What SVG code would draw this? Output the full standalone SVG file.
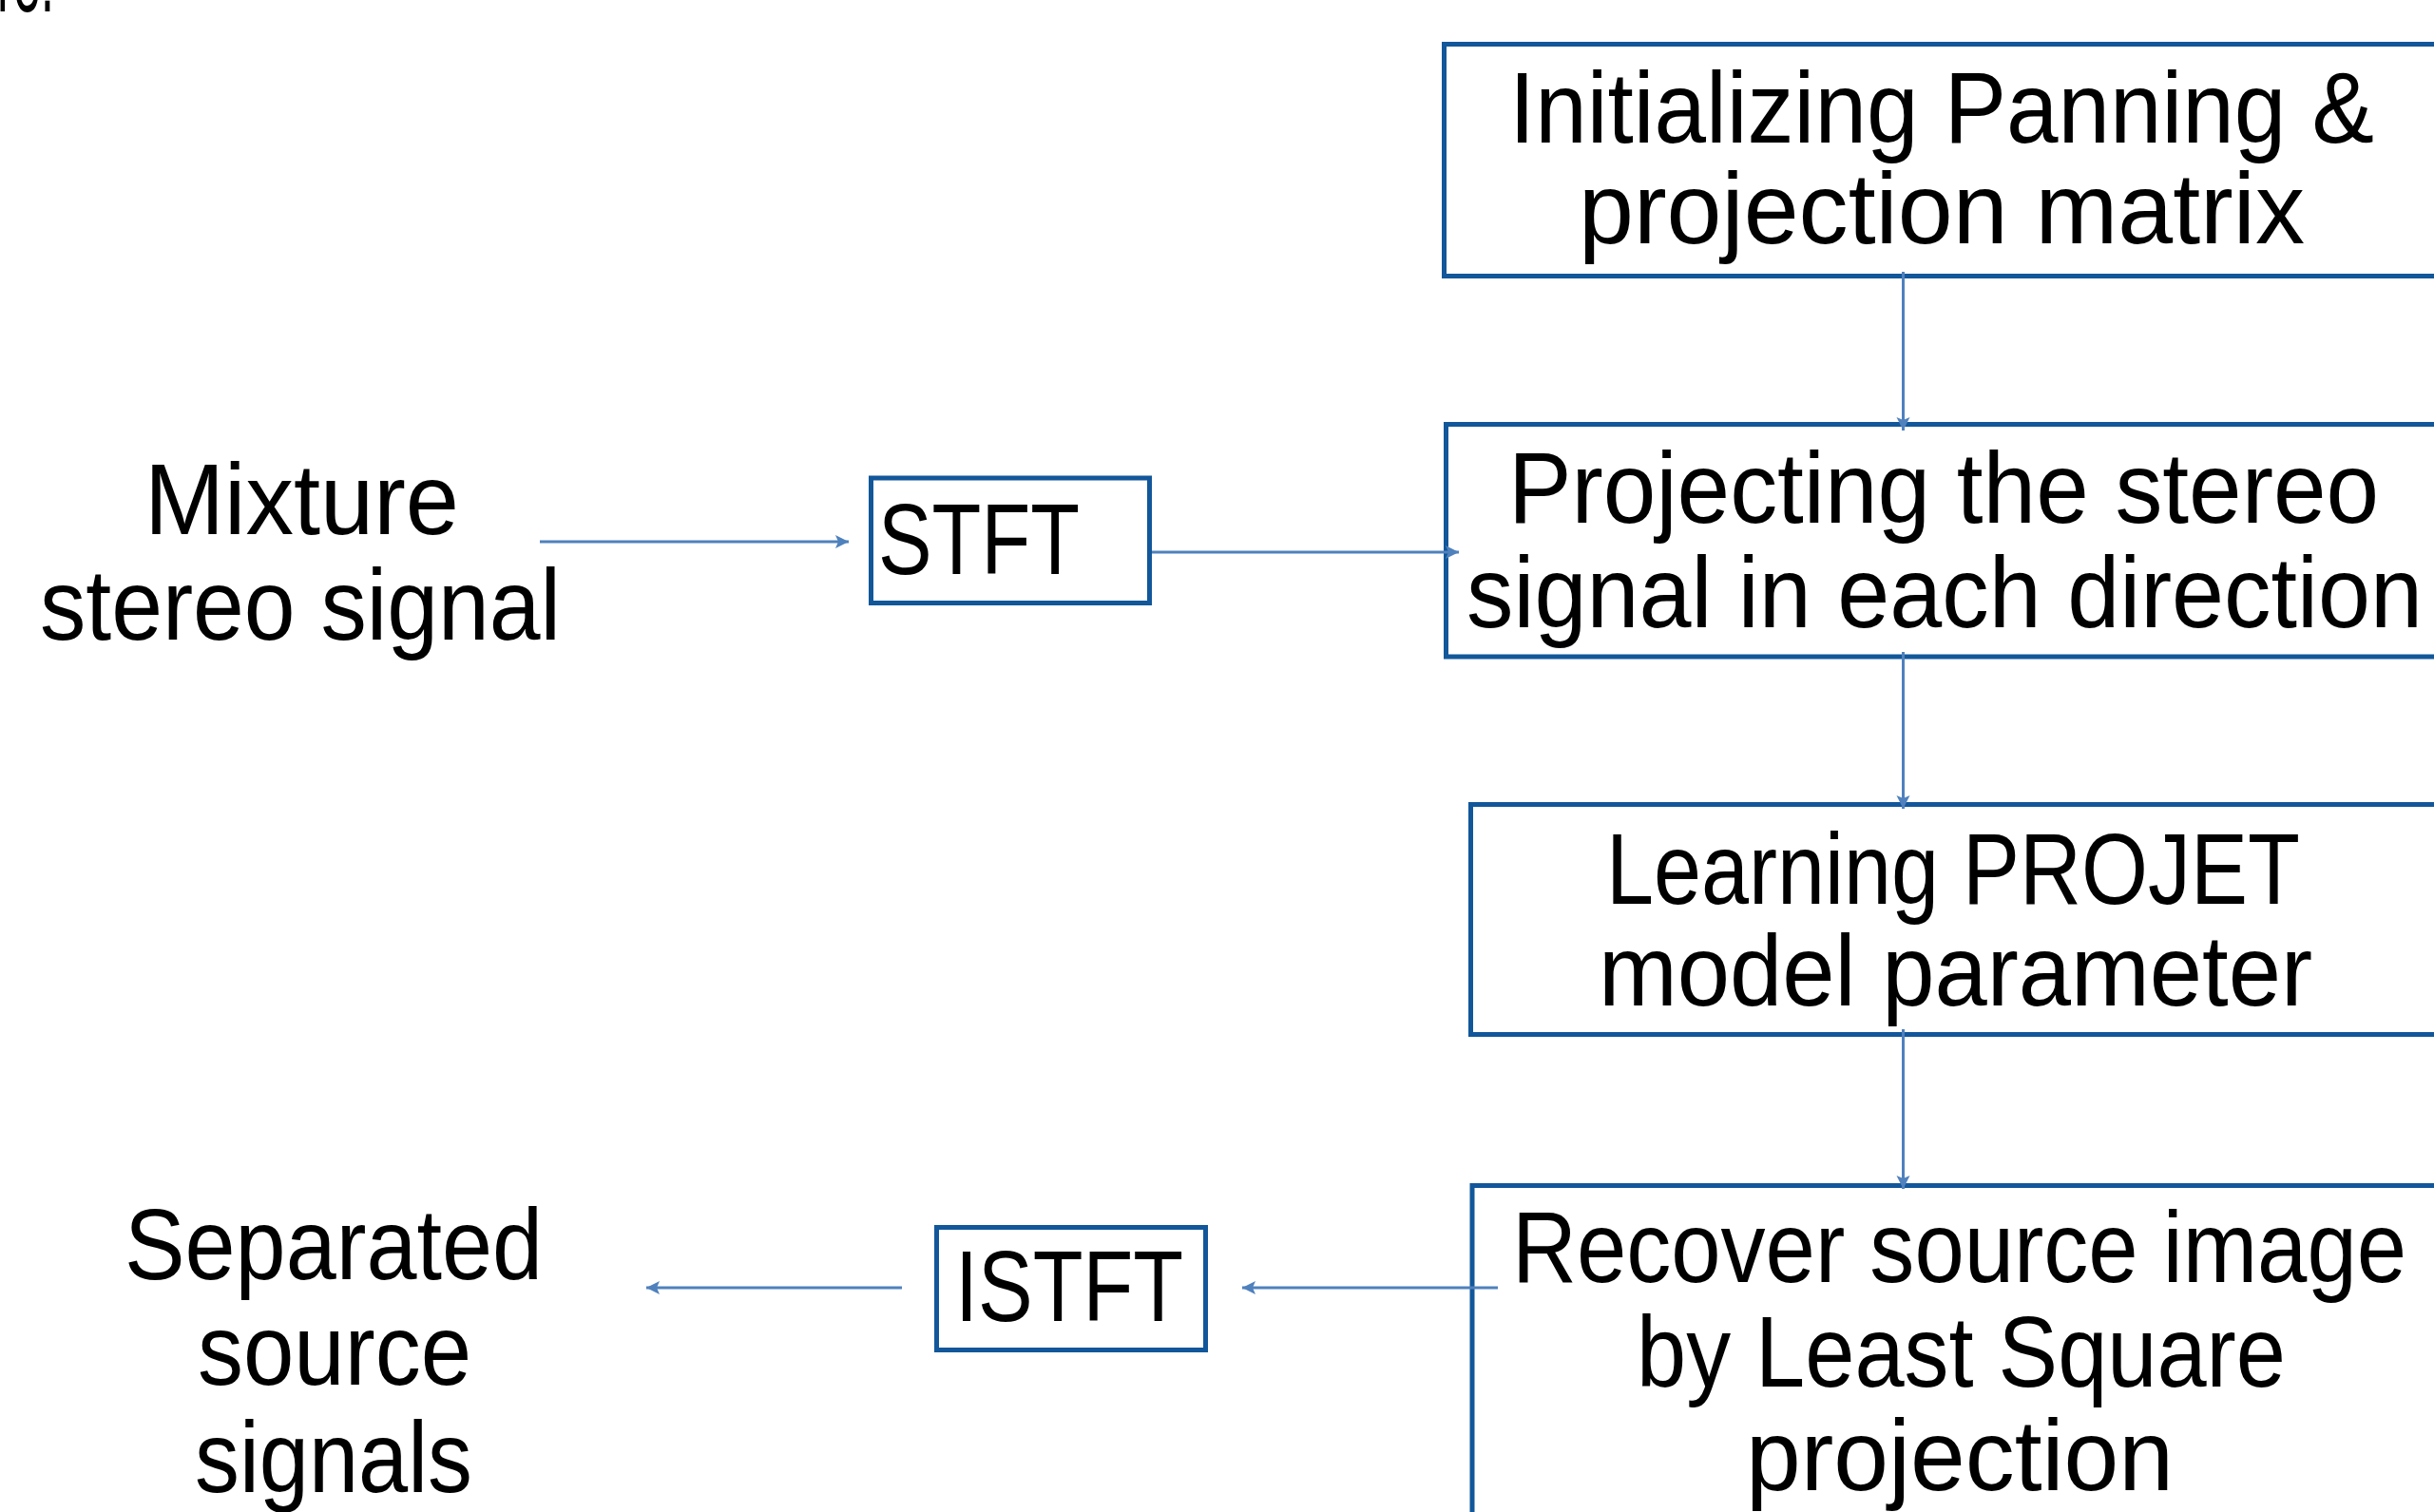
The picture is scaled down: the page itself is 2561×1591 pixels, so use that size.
<svg xmlns="http://www.w3.org/2000/svg" width="2561" height="1591" viewBox="0 0 2561 1591">
<style>
.box{fill:#ffffff;stroke:#12579A;stroke-width:5}
.t{font-family:"Liberation Sans",Arial,sans-serif;font-size:106px;fill:#000000}
.c{stroke:#4F81BD;stroke-width:3;fill:none;marker-end:url(#ah)}
</style>
<defs>
<marker id="ah" markerUnits="userSpaceOnUse" markerWidth="18" markerHeight="18" viewBox="0 0 18 18" refX="16" refY="9" orient="auto">
<path d="M2,2 L16,9 L2,16 L5,9 Z" fill="#4F81BD"/>
</marker>
</defs>
<rect width="2561" height="1591" fill="#ffffff"/>
<text class="t" x="-3" y="12" font-size="60" textLength="60" lengthAdjust="spacingAndGlyphs">re.</text>

<g id="node-init">
<rect class="box" x="1519.5" y="46.5" width="1100" height="244"/>
<text class="t" x="1588" y="150" textLength="910" lengthAdjust="spacingAndGlyphs">Initializing Panning &amp;</text>
<text class="t" x="1661" y="256" textLength="764" lengthAdjust="spacingAndGlyphs">projection matrix</text>
</g>
<g id="node-project">
<rect class="box" x="1521.5" y="446.5" width="1100" height="244.5"/>
<text class="t" x="1587" y="550" textLength="916" lengthAdjust="spacingAndGlyphs">Projecting the stereo</text>
<text class="t" x="1543" y="660" textLength="1006" lengthAdjust="spacingAndGlyphs">signal in each direction</text>
</g>
<g id="node-learn">
<rect class="box" x="1547.5" y="846.5" width="1100" height="242"/>
<text class="t" x="1690" y="951" textLength="730" lengthAdjust="spacingAndGlyphs">Learning PROJET</text>
<text class="t" x="1682" y="1058" textLength="751" lengthAdjust="spacingAndGlyphs">model parameter</text>
</g>
<g id="node-recover">
<rect class="box" x="1549" y="1247.5" width="1100" height="400"/>
<text class="t" x="1591" y="1349" textLength="941" lengthAdjust="spacingAndGlyphs">Recover source image</text>
<text class="t" x="1722" y="1459" textLength="683" lengthAdjust="spacingAndGlyphs">by Least Square</text>
<text class="t" x="1837" y="1568" textLength="450" lengthAdjust="spacingAndGlyphs">projection</text>
</g>
<g id="node-stft">
<rect class="box" x="916.5" y="503" width="293" height="131.5"/>
<text class="t" x="924" y="604" textLength="212" lengthAdjust="spacingAndGlyphs">STFT</text>
</g>
<g id="node-istft">
<rect class="box" x="985.5" y="1291.5" width="283" height="129"/>
<text class="t" x="1005" y="1390" textLength="240" lengthAdjust="spacingAndGlyphs">ISTFT</text>
</g>
<g id="node-mixture">
<text class="t" x="152" y="562" textLength="331" lengthAdjust="spacingAndGlyphs">Mixture</text>
<text class="t" x="42" y="673" textLength="548" lengthAdjust="spacingAndGlyphs">stereo signal</text>
</g>
<g id="node-separated">
<text class="t" x="131" y="1346" textLength="440" lengthAdjust="spacingAndGlyphs">Separated</text>
<text class="t" x="208" y="1457" textLength="288" lengthAdjust="spacingAndGlyphs">source</text>
<text class="t" x="205" y="1570" textLength="292" lengthAdjust="spacingAndGlyphs">signals</text>
</g>

<g id="connectors">
<line class="c" x1="568" y1="570" x2="893" y2="570"/>
<line class="c" x1="1212" y1="581" x2="1535" y2="581"/>
<line class="c" x1="2002.5" y1="286" x2="2002.5" y2="453"/>
<line class="c" x1="2002.5" y1="686" x2="2002.5" y2="851"/>
<line class="c" x1="2002.5" y1="1083" x2="2002.5" y2="1251"/>
<line class="c" x1="1576" y1="1355" x2="1307" y2="1355"/>
<line class="c" x1="949" y1="1355" x2="680" y2="1355"/>
</g>
</svg>
